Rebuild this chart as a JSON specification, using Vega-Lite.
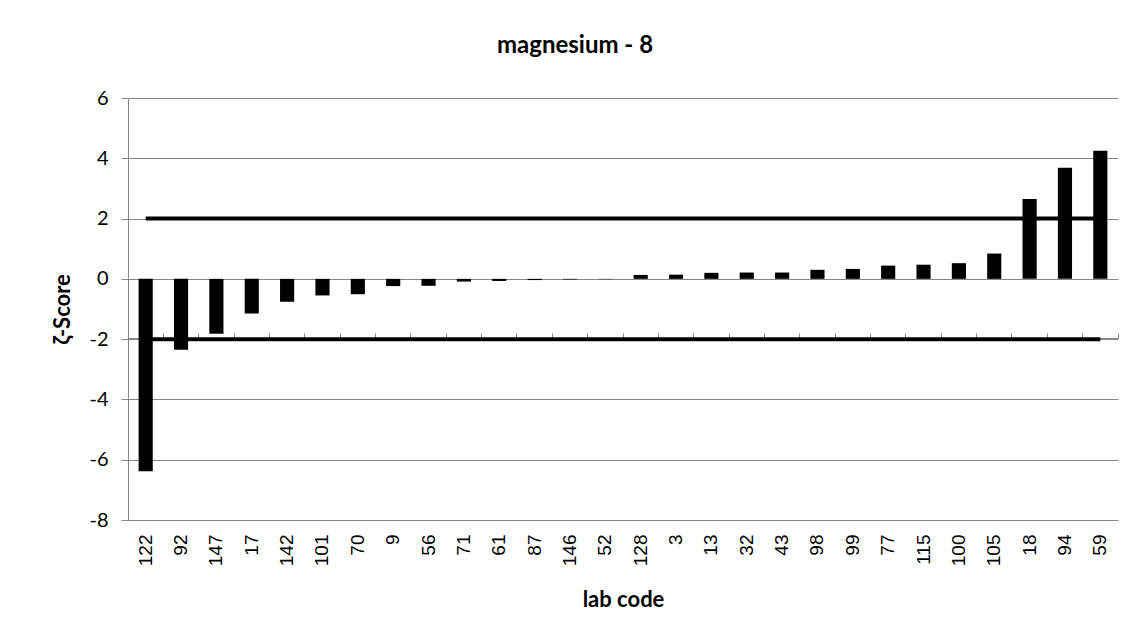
{
  "$schema": "https://vega.github.io/schema/vega-lite/v6.json",
  "width": 990,
  "height": 422,
  "autosize": "none",
  "padding": {"left": 128, "top": 98, "right": 21, "bottom": 123},
  "background": "white",
  "config": {
    "view": {"stroke": null},
    "font": "Lato"
  },
  "title": {
    "text": "magnesium - 8",
    "font": "Lato",
    "fontSize": 24,
    "fontWeight": "bold",
    "color": "black",
    "anchor": "middle",
    "dx": -48,
    "offset": 30
  },
  "datasets": {
    "scores": [
      {"lab": "122", "z": -6.38},
      {"lab": "92", "z": -2.35},
      {"lab": "147", "z": -1.82},
      {"lab": "17", "z": -1.15},
      {"lab": "142", "z": -0.76},
      {"lab": "101", "z": -0.55},
      {"lab": "70", "z": -0.51},
      {"lab": "9", "z": -0.24},
      {"lab": "56", "z": -0.23},
      {"lab": "71", "z": -0.09},
      {"lab": "61", "z": -0.07},
      {"lab": "87", "z": -0.04},
      {"lab": "146", "z": -0.02},
      {"lab": "52", "z": -0.01},
      {"lab": "128", "z": 0.13},
      {"lab": "3", "z": 0.14},
      {"lab": "13", "z": 0.2},
      {"lab": "32", "z": 0.21},
      {"lab": "43", "z": 0.21},
      {"lab": "98", "z": 0.3},
      {"lab": "99", "z": 0.33},
      {"lab": "77", "z": 0.44},
      {"lab": "115", "z": 0.47},
      {"lab": "100", "z": 0.52},
      {"lab": "105", "z": 0.84},
      {"lab": "18", "z": 2.65},
      {"lab": "94", "z": 3.69},
      {"lab": "59", "z": 4.25}
    ],
    "limits": [
      {"lab": "122", "limit": 2, "grp": "upper"},
      {"lab": "59", "limit": 2, "grp": "upper"},
      {"lab": "122", "limit": -2, "grp": "lower"},
      {"lab": "59", "limit": -2, "grp": "lower"}
    ]
  },
  "resolve": {"axis": {"x": "independent"}},
  "layer": [
    {
      "data": {"name": "scores"},
      "mark": {"type": "bar", "color": "black", "width": {"band": 0.4}},
      "encoding": {
        "x": {
          "field": "lab",
          "type": "nominal",
          "sort": ["122","92","147","17","142","101","70","9","56","71","61","87","146","52","128","3","13","32","43","98","99","77","115","100","105","18","94","59"],
          "scale": {"paddingInner": 0, "paddingOuter": 0},
          "axis": {
            "title": "lab code",
            "titleFont": "Lato",
            "titleFontSize": 22,
            "titleFontWeight": "bold",
            "titleColor": "black",
            "titlePadding": 24,
            "labelAngle": -90,
            "labelFont": "Liberation Sans",
            "labelFontSize": 19,
            "labelColor": "black",
            "labelPadding": 14,
            "ticks": false,
            "domain": false,
            "grid": false
          }
        },
        "y": {
          "field": "z",
          "type": "quantitative",
          "scale": {"domain": [-8, 6], "nice": false},
          "axis": {
            "values": [-8, -6, -4, -2, 0, 2, 4, 6],
            "labelExpr": "replace(datum.label, '−', '-')",
            "title": "ζ-Score",
            "titleFont": "Lato",
            "titleFontSize": 22,
            "titleFontWeight": "bold",
            "titleColor": "black",
            "titlePadding": 14,
            "labelFont": "Lato",
            "labelFontSize": 20,
            "labelColor": "black",
            "labelPadding": 13,
            "tickSize": 7,
            "tickColor": "#868686",
            "domainColor": "#868686",
            "gridColor": "#868686",
            "grid": true
          }
        }
      }
    },
    {
      "data": {"name": "limits"},
      "mark": {"type": "line", "color": "black", "strokeWidth": 4},
      "encoding": {
        "x": {
          "field": "lab",
          "type": "nominal",
          "sort": ["122","92","147","17","142","101","70","9","56","71","61","87","146","52","128","3","13","32","43","98","99","77","115","100","105","18","94","59"],
          "axis": {
            "title": null,
            "labels": false,
            "offset": -240,
            "bandPosition": 1,
            "tickExtra": true,
            "tickSize": 5,
            "tickColor": "#868686",
            "domainColor": "#868686",
            "grid": false
          }
        },
        "y": {"field": "limit", "type": "quantitative"},
        "detail": {"field": "grp"}
      }
    }
  ]
}
